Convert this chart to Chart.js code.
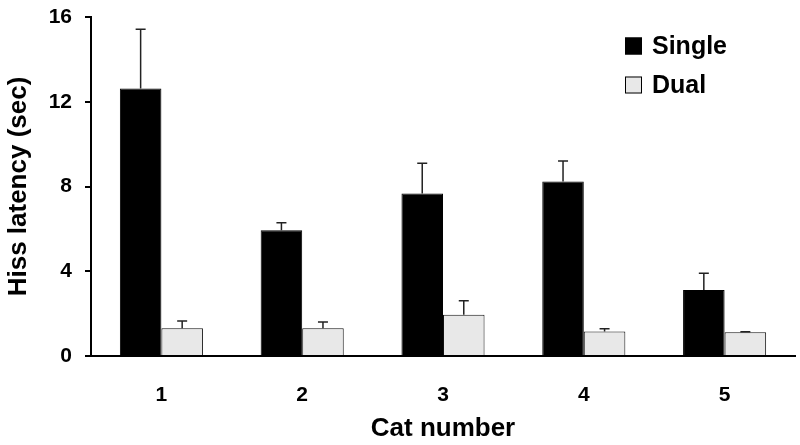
<!DOCTYPE html>
<html>
<head>
<meta charset="utf-8">
<script src="https://cdn.jsdelivr.net/npm/chart.js@4/dist/chart.umd.min.js"></script>
<style>
  html, body { margin: 0; padding: 0; background: #fff; }
  canvas { display: block; }
</style>
</head>
<body>
<canvas id="myChart" width="800" height="445"></canvas>
<script>
// veriler
const cats = ['1', '2', '3', '4', '5'];
const single = [12.63, 5.94, 7.67, 8.24, 3.11];
const singleErr = [2.79, 0.35, 1.43, 0.96, 0.79];
const dual = [1.31, 1.31, 1.95, 1.16, 1.12];
const dualErr = [0.34, 0.29, 0.66, 0.13, 0.03];
const yTicks = [0, 4, 8, 12, 16];

const FONT = '"Liberation Sans", Arial, sans-serif';

// hata çubukları (sadece yukarı)
const errorBars = {
    id: 'errorBars',
    afterDatasetsDraw(chart) {
        const c = chart.ctx;
        const y = chart.scales.y;
        chart.data.datasets.forEach((ds, i) => {
            const meta = chart.getDatasetMeta(i);
            meta.data.forEach((bar, j) => {
                const top = y.getPixelForValue(ds.data[j] + ds.errors[j]);
                c.save();
                c.strokeStyle = '#222';
                c.lineWidth = 1.5;
                c.beginPath();
                c.moveTo(bar.x, bar.y);
                c.lineTo(bar.x, top);
                c.moveTo(bar.x - 5, top);
                c.lineTo(bar.x + 5, top);
                c.stroke();
                c.restore();
            });
        });
    }
};

// sağ üstte lejant
const boxLegend = {
    id: 'boxLegend',
    afterDraw(chart) {
        const c = chart.ctx;
        const x0 = chart.chartArea.right - 170;
        c.save();
        c.font = 'bold 25px ' + FONT;
        c.textBaseline = 'middle';
        chart.data.datasets.forEach((ds, i) => {
            const yc = 46 + i * 39;
            c.fillStyle = ds.backgroundColor;
            c.fillRect(x0, yc - 8.5, 17, 17);
            c.strokeStyle = '#000';
            c.lineWidth = 1;
            c.strokeRect(x0 + 0.5, yc - 8, 16, 16);
            c.fillStyle = '#000';
            c.fillText(ds.label, x0 + 27, yc + 1);
        });
        c.restore();
    }
};

const ctx = document.getElementById('myChart').getContext('2d');
let myChart = new Chart(ctx, {
    type: 'bar',
    data: {
        labels: cats,
        datasets: [{
            label: 'Single',
            data: single,
            errors: singleErr,
            backgroundColor: '#000000',
            borderColor: '#000000',
            borderWidth: 1
        }, {
            label: 'Dual',
            data: dual,
            errors: dualErr,
            backgroundColor: '#e8e8e8',
            borderColor: '#111111',
            borderWidth: 1
        }]
    },
    options: {
        responsive: false,
        animation: false,
        layout: { padding: { top: 17, right: 5, left: 0, bottom: 0 } },
        categoryPercentage: 0.59,
        barPercentage: 1.0,
        plugins: {
            legend: { display: false },
            tooltip: { enabled: false }
        },
        scales: {
            x: {
                afterFit: (s) => { s.height = 89; },
                grid: { display: false, drawTicks: false },
                border: { display: true, color: '#000', width: 2 },
                ticks: {
                    color: '#000',
                    padding: 27,
                    font: { family: FONT, size: 21, weight: 'bold' }
                },
                title: {
                    display: true,
                    text: 'Cat number',
                    color: '#000',
                    font: { family: FONT, size: 26, weight: 'bold' },
                    padding: { top: 0, bottom: 1 }
                }
            },
            y: {
                min: 0,
                max: 16,
                afterFit: (s) => { s.width = 91; s.paddingTop = 0; s.paddingBottom = 0; },
                afterBuildTicks: (s) => { s.ticks = yTicks.map(v => ({ value: v })); },
                grid: {
                    drawOnChartArea: false,
                    drawTicks: true,
                    tickLength: 6,
                    color: '#000',
                    lineWidth: 2
                },
                border: { display: true, color: '#000', width: 2 },
                ticks: {
                    color: '#000',
                    padding: 13,
                    font: { family: FONT, size: 21, weight: 'bold' }
                },
                title: {
                    display: true,
                    text: 'Hiss latency (sec)',
                    color: '#000',
                    font: { family: FONT, size: 26, weight: 'bold' },
                    padding: { top: 3, bottom: 0 }
                }
            }
        }
    },
    plugins: [errorBars, boxLegend]
});
</script>
</body>
</html>
